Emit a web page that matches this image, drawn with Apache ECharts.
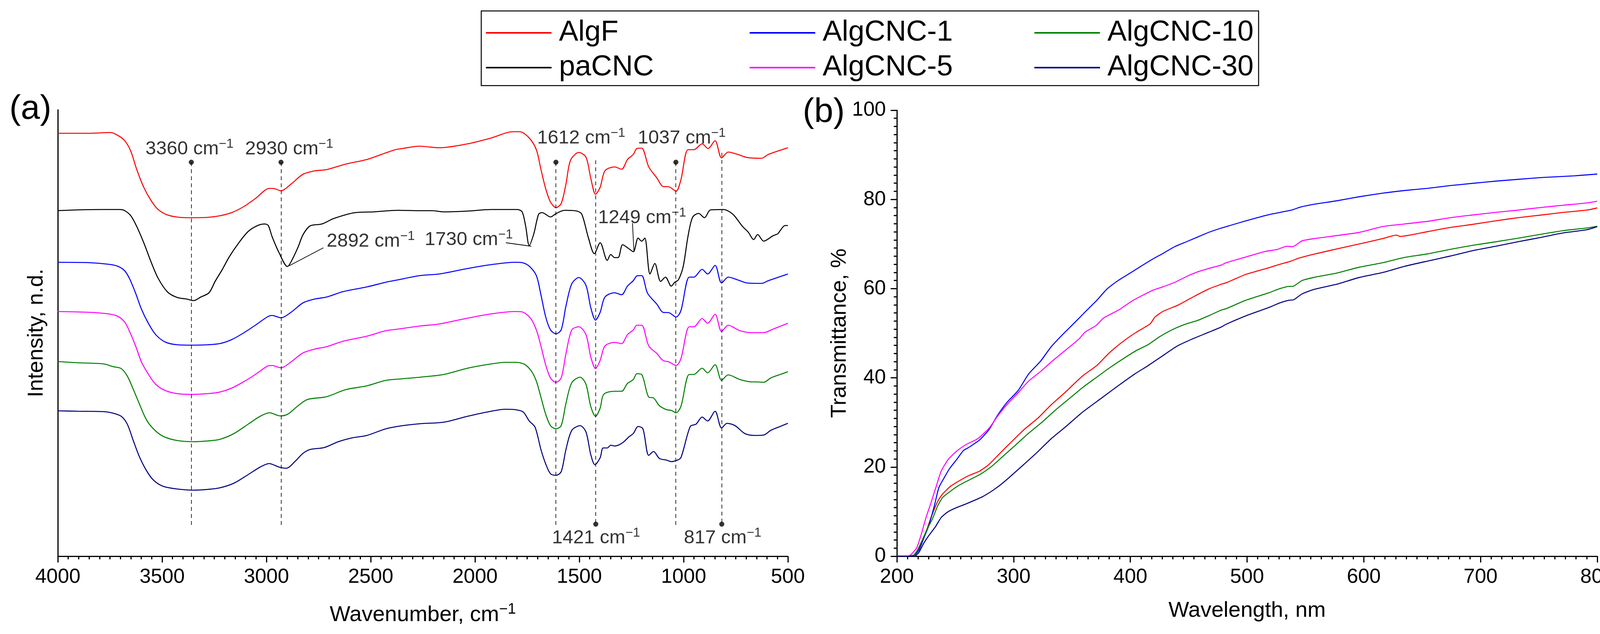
<!DOCTYPE html>
<html><head><meta charset="utf-8">
<script src="https://cdn.jsdelivr.net/npm/echarts@6/dist/echarts.min.js"></script>
<style>html,body{margin:0;padding:0;background:#fff;overflow:hidden}#c{width:4157px;height:1622px}</style>
</head><body><div id="c"></div>
<script>
const FONT = 'Liberation Sans, Arial, sans-serif';

// ---------- FTIR spectra (wavenumber cm-1, intensity in arbitrary units, offset stacked) ----------
const ftirAlgF = [[4000,1082],[3850,1082],[3747,1084],[3713,1077],[3679,1063],[3650,1036],[3622,990],[3588,944],[3553,910],[3519,887],[3474,873],[3417,867],[3360,866],[3280,867],[3223,871],[3167,879],[3110,894],[3053,915],[2985,941],[2968,941],[2930,935],[2882,952],[2825,977],[2768,986],[2712,989],[2621,1003],[2518,1015],[2427,1032],[2382,1040],[2348,1043],[2268,1049],[2172,1045],[2036,1055],[1922,1070],[1820,1086],[1786,1086],[1740,1070],[1706,1040],[1684,990],[1661,940],[1638,906],[1612,892],[1587,902],[1564,952],[1542,1013],[1502,1033],[1468,1021],[1445,967],[1422,926],[1400,944],[1377,986],[1331,996],[1297,990],[1269,1015],[1241,1028],[1224,1043],[1201,1044],[1167,996],[1127,967],[1099,946],[1070,945],[1036,934],[1013,963],[979,1040],[951,1040],[911,1055],[883,1043],[849,1063],[818,1019],[786,1034],[741,1028],[695,1020],[627,1018],[593,1028],[500,1045]];
const ftirPaCNC = [[4000,884],[3906,886],[3792,887],[3701,887],[3679,884],[3650,871],[3622,844],[3588,802],[3553,753],[3519,711],[3474,676],[3428,662],[3383,658],[3349,654],[3315,663],[3275,674],[3246,703],[3212,733],[3178,766],[3132,802],[3087,831],[3042,846],[3008,850],[2991,846],[2973,818],[2939,776],[2899,741],[2882,753],[2848,791],[2825,822],[2791,845],[2734,850],[2677,864],[2575,879],[2484,881],[2370,885],[2263,884],[2206,884],[2149,881],[2036,883],[1922,887],[1797,887],[1774,881],[1757,844],[1740,795],[1718,825],[1695,875],[1678,879],[1638,868],[1610,877],[1570,885],[1511,883],[1488,875],[1456,814],[1428,774],[1400,802],[1366,757],[1349,772],[1331,764],[1314,764],[1292,797],[1263,787],[1241,779],[1218,814],[1201,806],[1186,814],[1161,722],[1138,749],[1110,703],[1087,714],[1059,691],[1042,701],[1025,707],[1002,741],[979,818],[957,867],[928,877],[900,866],[871,886],[809,887],[764,875],[718,844],[690,829],[664,810],[645,823],[616,806],[571,820],[548,825],[537,833],[514,846],[500,846]];
const ftirCNC1 = [[4000,752],[3849,751],[3758,747],[3713,742],[3679,730],[3656,710],[3627,673],[3599,632],[3565,595],[3531,567],[3485,548],[3428,541],[3360,540],[3280,541],[3223,544],[3167,554],[3110,571],[3053,591],[2996,612],[2973,616],[2930,610],[2882,624],[2825,648],[2768,658],[2712,663],[2632,677],[2518,689],[2427,701],[2370,707],[2263,718],[2172,722],[2036,736],[1922,746],[1808,752],[1774,751],[1740,742],[1706,718],[1684,669],[1661,612],[1638,579],[1612,569],[1587,579],[1564,640],[1536,697],[1502,713],[1468,693],[1445,636],[1422,604],[1400,624],[1377,663],[1331,674],[1297,669],[1269,691],[1241,705],[1224,717],[1201,718],[1173,673],[1127,644],[1099,624],[1070,623],[1036,612],[1013,628],[973,714],[951,714],[911,734],[885,722],[849,744],[818,699],[786,714],[741,707],[695,699],[627,698],[593,705],[500,722]];
const ftirCNC5 = [[4000,626],[3849,624],[3758,620],[3713,614],[3679,599],[3656,575],[3627,538],[3599,497],[3565,465],[3531,440],[3485,424],[3428,416],[3360,414],[3280,416],[3223,420],[3167,430],[3110,446],[3053,465],[2996,486],[2973,488],[2930,482],[2882,497],[2825,520],[2768,530],[2712,536],[2632,550],[2518,563],[2427,577],[2370,581],[2263,589],[2172,594],[2036,609],[1922,620],[1808,626],[1774,625],[1734,609],[1706,579],[1684,538],[1661,489],[1638,456],[1612,445],[1587,456],[1564,518],[1536,579],[1502,587],[1468,567],[1445,510],[1422,480],[1400,501],[1377,538],[1331,547],[1297,544],[1269,567],[1241,579],[1224,591],[1201,591],[1167,538],[1127,518],[1099,501],[1070,497],[1036,488],[1013,505],[973,587],[951,587],[911,608],[885,596],[849,619],[818,575],[786,591],[730,577],[673,572],[616,572],[571,581],[500,596]];
const ftirCNC10 = [[4000,498],[3906,495],[3781,492],[3735,485],[3696,480],[3667,461],[3639,428],[3610,391],[3576,350],[3542,326],[3496,307],[3428,296],[3349,293],[3280,295],[3223,299],[3155,314],[3087,338],[3030,358],[2985,367],[2934,359],[2899,363],[2848,385],[2803,401],[2712,408],[2621,426],[2518,436],[2427,450],[2348,454],[2263,458],[2149,465],[2036,481],[1922,492],[1854,496],[1808,496],[1763,491],[1729,473],[1706,448],[1684,407],[1661,363],[1638,334],[1612,326],[1587,334],[1564,391],[1536,444],[1496,458],[1468,440],[1445,383],[1422,358],[1400,379],[1383,414],[1331,422],[1297,422],[1269,442],[1241,452],[1224,467],[1201,465],[1167,407],[1144,405],[1116,385],[1082,375],[1059,373],[1036,367],[1013,383],[973,465],[951,465],[911,481],[885,469],[849,490],[818,450],[786,464],[730,452],[673,446],[650,446],[616,445],[582,456],[537,465],[500,472]];
const ftirCNC30 = [[4000,372],[3906,371],[3781,370],[3735,366],[3696,358],[3667,338],[3639,297],[3610,256],[3576,220],[3542,195],[3496,179],[3428,172],[3349,169],[3280,171],[3223,175],[3155,187],[3087,209],[3030,228],[2987,237],[2939,228],[2905,225],[2860,244],[2825,263],[2791,273],[2723,278],[2655,293],[2587,303],[2518,309],[2427,326],[2348,334],[2263,339],[2149,343],[2036,358],[1922,371],[1854,376],[1808,375],[1769,369],[1740,346],[1712,330],[1684,273],[1661,236],[1638,211],[1612,207],[1587,216],[1564,273],[1536,322],[1496,334],[1468,318],[1445,260],[1425,234],[1400,252],[1386,277],[1366,277],[1349,284],[1331,282],[1309,285],[1286,293],[1263,305],[1241,314],[1218,332],[1195,326],[1167,258],[1144,268],[1116,250],[1082,246],[1059,242],[1034,245],[1013,252],[968,332],[940,338],[911,356],[885,346],[849,371],[818,328],[792,340],[753,334],[707,314],[661,309],[616,310],[582,322],[537,332],[500,340]];

// ---------- UV-Vis transmittance (wavelength nm, %) ----------
const uvAlgF = [[200,0],[213,0],[217,0.7],[221,2.9],[225,5.5],[230,9.2],[235,12.3],[239,13.9],[246,15.7],[254,17.0],[261,18.0],[271,19.1],[279,20.6],[288,23.0],[298,25.6],[309,28.4],[321,31.0],[332,33.9],[344,36.7],[359,40.4],[371,42.7],[382,45.6],[394,48.2],[405,50.2],[417,52.1],[421,53.6],[428,54.9],[440,56.2],[448,57.3],[455,58.3],[467,59.9],[477,60.9],[482,61.3],[490,62.2],[499,63.2],[519,64.7],[526,65.3],[538,66.2],[544,66.8],[557,67.7],[577,68.9],[596,70.0],[616,71.2],[628,72.0],[631,71.7],[655,72.8],[674,73.7],[693,74.4],[713,75.2],[732,75.9],[752,76.5],[771,77.1],[791,77.6],[800,78.1]];
const uvCNC1 = [[200,0],[209.5,0],[215,0.3],[219,1.4],[223,4.0],[227,6.6],[232,11.2],[236,15.4],[241,17.8],[245,19.6],[251,21.6],[257,23.7],[261,24.3],[271,26.1],[279,28.4],[286,31.5],[294,34.4],[304,37.2],[313,40.9],[323,43.7],[332,46.9],[342,49.7],[352,52.3],[361,54.7],[371,57.3],[380,59.9],[390,61.9],[400,63.5],[409,65.0],[419,66.6],[428,67.9],[438,69.4],[448,70.5],[457,71.5],[467,72.6],[477,73.5],[486,74.2],[499,75.2],[519,76.6],[538,77.6],[546,78.3],[557,78.9],[577,79.7],[596,80.6],[616,81.4],[635,82.0],[655,82.5],[674,83.1],[693,83.6],[713,84.1],[732,84.5],[752,84.9],[781,85.3],[800,85.7]];
const uvCNC5 = [[200,0],[209.5,0],[213,0.6],[217,1.9],[221,5.0],[225,8.7],[229,11.8],[234,15.9],[238,19.1],[244,21.7],[251,23.5],[259,25.0],[269,26.3],[279,28.7],[286,31.3],[294,33.9],[304,36.7],[313,39.3],[323,41.4],[332,43.5],[344,46.1],[356,48.7],[361,50.2],[371,51.8],[377,53.4],[390,55.2],[402,57.3],[419,59.6],[428,60.4],[438,61.4],[448,62.7],[457,63.7],[467,64.5],[478,65.3],[482,65.8],[499,67.1],[515,68.3],[526,68.8],[534,69.5],[539,69.4],[547,70.7],[557,71.2],[577,71.9],[596,72.6],[616,73.9],[635,74.5],[655,75.1],[674,75.9],[693,76.5],[713,77.1],[732,77.6],[752,78.2],[771,78.7],[791,79.2],[800,79.6]];
const uvCNC10 = [[200,0],[213,0],[217,1.1],[221,3.2],[226,6.1],[230,8.1],[235,11.3],[239,13.1],[245,14.4],[252,15.7],[259,16.7],[271,18.3],[281,20.1],[290,22.2],[302,25.0],[313,27.6],[325,30.2],[336,32.8],[348,35.4],[359,37.8],[371,40.1],[382,42.2],[394,44.3],[405,46.1],[415,47.4],[425,49.2],[436,50.8],[448,52.1],[457,52.8],[467,53.9],[478,55.2],[482,55.5],[499,57.4],[519,59.1],[528,60.0],[536,60.5],[539,60.5],[547,61.8],[557,62.5],[577,63.5],[596,64.8],[616,65.8],[635,67.0],[655,67.8],[674,68.8],[693,69.7],[713,70.5],[732,71.3],[752,72.2],[771,73.0],[791,73.6],[800,74.0]];
const uvCNC30 = [[200,0],[215,0],[219,0.9],[223,2.9],[227,4.5],[233,6.6],[238,8.7],[244,10.0],[252,11.0],[259,11.7],[273,13.3],[283,14.9],[292,16.7],[308,20.4],[321,23.5],[332,26.3],[344,28.9],[359,32.3],[375,35.4],[390,38.3],[404,40.9],[415,42.7],[428,45.0],[440,47.1],[453,48.7],[467,50.2],[478,51.4],[482,52.0],[499,53.9],[519,55.8],[528,56.8],[536,57.4],[540,57.5],[547,58.8],[557,59.8],[577,61.0],[596,62.5],[616,63.6],[635,65.0],[655,66.2],[674,67.3],[693,68.5],[713,69.5],[732,70.5],[752,71.5],[771,72.5],[791,73.2],[800,73.9]];

// ---------- annotations (in FTIR data coordinates) ----------
const peakLines  = [[3360,1008,78],[2930,1008,78],[1612,1008,75],[1421,1013,82],[1037,1008,75],[817,1032,82]];
const peakDots   = [[3360,1008],[2930,1008],[1612,1008],[1037,1008],[1421,82],[817,82]];
const peakLabels = [[3369,1042,'3360'],[2891,1042,'2930'],[1491,1070,'1612'],[1009,1070,'1037'],[1199,866,'1249'],[2030,810,'1730'],[2500,806,'2892'],[1420,47,'1421'],[813,47,'817']];
const peakArrows = [[2727,789,2891,743],[1852,802,1730,793],[1245,852,1238,779]];

// ---------- axis ticks ----------
const ftirTicks = {min:500, max:4000, interval:500};
const uvXTicks  = {min:200, max:800, interval:100};
const uvYTicks  = {min:0, max:100, interval:20};

const names  = ['AlgF','paCNC','AlgCNC-1','AlgCNC-5','AlgCNC-10','AlgCNC-30'];
const colors = ['#FF0000','#000000','#0000FF','#FF00FF','#008000','#000080'];
const ftirData = [ftirAlgF, ftirPaCNC, ftirCNC1, ftirCNC5, ftirCNC10, ftirCNC30];
const uvData   = [uvAlgF, null, uvCNC1, uvCNC5, uvCNC10, uvCNC30];

const chart = echarts.init(document.getElementById('c'), null, {renderer:'canvas', width:4157, height:1622});

const axisLine = {show:true, lineStyle:{color:'#000', width:3}};
const axisTick = {show:true, length:16, lineStyle:{color:'#000', width:3}};
const minorTick = n => ({show:true, splitNumber:n, length:8, lineStyle:{color:'#000', width:3}});
const axisLabel = {color:'#000', fontSize:52, fontFamily:FONT, margin:28, formatter: v => String(v)};
const supRich = (size) => ({
  a:{fontSize:size, fontFamily:FONT, color:'#000', lineHeight:size*1.15},
  s:{fontSize:Math.round(size*0.68), fontFamily:FONT, color:'#000', verticalAlign:'top', lineHeight:Math.round(size*0.68)}
});

const series = [];
names.forEach((n,i)=>{
  series.push({name:n, type:'line', xAxisIndex:0, yAxisIndex:0, data:ftirData[i], symbol:'none', showSymbol:false,
    smooth:0.3, lineStyle:{color:colors[i], width:2.6}, itemStyle:{color:colors[i]}, silent:true, z:3});
  if (uvData[i]) series.push({name:n, type:'line', xAxisIndex:1, yAxisIndex:1, data:uvData[i], symbol:'none', showSymbol:false,
    smooth:0.2, lineStyle:{color:colors[i], width:2.6}, itemStyle:{color:colors[i]}, silent:true, z:3});
});
// dots + dashed guide lines
series.push({type:'scatter', xAxisIndex:0, yAxisIndex:0, data:peakDots, symbolSize:13, itemStyle:{color:'#000'}, silent:true, z:5,
  markLine:{silent:true, symbol:['none','none'], label:{show:false},
    lineStyle:{color:'#000', width:1.6, type:[10,8]},
    data: peakLines.map(p=>[{coord:[p[0],p[1]]},{coord:[p[0],p[2]]}])}});
// arrows
series.push({type:'scatter', xAxisIndex:0, yAxisIndex:0, data:[], silent:true, z:5,
  markLine:{silent:true, symbol:['none','arrow'], symbolSize:[0,28], label:{show:false},
    lineStyle:{color:'#000', width:1.8, type:'solid'},
    data: peakArrows.map(a=>[{coord:[a[0],a[1]]},{coord:[a[2],a[3]]}])}});
// peak labels
series.push({type:'scatter', xAxisIndex:0, yAxisIndex:0, data:peakLabels, symbolSize:1, itemStyle:{color:'rgba(0,0,0,0)'}, silent:true, z:6,
  label:{show:true, position:'inside', formatter:p=>'{a|'+p.value[2]+' cm}{s|\u22121}', rich:supRich(49)}});

const legendCommon = {orient:'vertical', icon:'rect', itemWidth:168, itemHeight:4, itemGap:15,
  textStyle:{fontSize:74, fontFamily:FONT, color:'#000', lineHeight:74, padding:[0,0,0,14]}, selectedMode:false};

chart.setOption({
  animation:false,
  backgroundColor:'#fff',
  grid:[
    {left:148, top:281, width:1869, height:1142},
    {left:2296, top:282, width:1793, height:1141}
  ],
  xAxis:[
    {type:'value', gridIndex:0, inverse:true, min:ftirTicks.min, max:ftirTicks.max, interval:ftirTicks.interval,
     axisLine, axisTick, minorTick:minorTick(10), splitLine:{show:false}, minorSplitLine:{show:false}, axisLabel,
     name:'{a|Wavenumber, cm}{s|\u22121}', nameLocation:'middle', nameGap:118,
     nameTextStyle:{rich:supRich(56)}},
    {type:'value', gridIndex:1, min:uvXTicks.min, max:uvXTicks.max, interval:uvXTicks.interval,
     axisLine, axisTick, minorTick:minorTick(11), splitLine:{show:false}, axisLabel,
     name:'Wavelength, nm', nameLocation:'middle', nameGap:112,
     nameTextStyle:{fontSize:56, fontFamily:FONT, color:'#000'}}
  ],
  yAxis:[
    {type:'value', gridIndex:0, min:0, max:1142, axisLine, axisTick:{show:false}, axisLabel:{show:false}, splitLine:{show:false},
     name:'Intensity, n.d.', nameLocation:'middle', nameGap:26, nameRotate:90,
     nameTextStyle:{fontSize:56, fontFamily:FONT, color:'#000'}},
    {type:'value', gridIndex:1, min:uvYTicks.min, max:uvYTicks.max, interval:uvYTicks.interval,
     axisLine, axisTick, minorTick:minorTick(11), splitLine:{show:false}, axisLabel,
     name:'Transmittance, %', nameLocation:'middle', nameGap:118, nameRotate:90,
     nameTextStyle:{fontSize:56, fontFamily:FONT, color:'#000'}}
  ],
  legend:[
    Object.assign({}, legendCommon, {left:1239, top:42, data:['AlgF','paCNC']}),
    Object.assign({}, legendCommon, {left:1914, top:42, data:['AlgCNC-1','AlgCNC-5']}),
    Object.assign({}, legendCommon, {left:2643, top:42, data:['AlgCNC-10','AlgCNC-30']})
  ],
  graphic:[
    {type:'rect', shape:{x:1232, y:28, width:1990, height:191}, style:{fill:'none', stroke:'#000', lineWidth:2.5}, silent:true},
    {type:'text', left:24, top:236, style:{text:'(a)', fontSize:88, fontFamily:FONT, fill:'#000'}, silent:true},
    {type:'text', left:2055, top:244, style:{text:'(b)', fontSize:88, fontFamily:FONT, fill:'#000'}, silent:true}
  ],
  series
});
</script></body></html>
